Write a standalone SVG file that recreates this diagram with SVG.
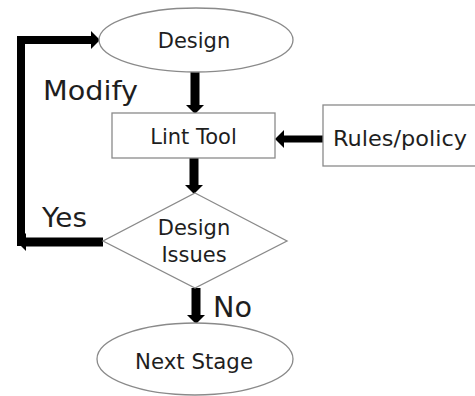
<svg xmlns="http://www.w3.org/2000/svg" width="475" height="396" viewBox="0 0 475 396">
  <style>
    .shape { fill: #ffffff; stroke: #8a8a8a; stroke-width: 1.3; }
    .lbl { font-family: "DejaVu Sans", "Liberation Sans", sans-serif; fill: #1e1e1e; }
    .node { font-size: 21px; text-anchor: middle; }
    .edge { fill: none; stroke: #000; stroke-linejoin: miter; stroke-linecap: butt; }
  </style>
  <defs>
    <marker id="ah" markerUnits="userSpaceOnUse" markerWidth="9" markerHeight="18" viewBox="0 0 9 18" refX="0" refY="9" orient="auto">
      <path d="M0,0 L9,9 L0,18 z" fill="#000"/>
    </marker>
  </defs>
  <rect width="475" height="396" fill="#ffffff"/>

  <g id="connectors">
    <line class="edge" x1="195" y1="72" x2="195" y2="105" stroke-width="9" marker-end="url(#ah)"/>
    <line class="edge" x1="323" y1="139" x2="284" y2="139" stroke-width="7" marker-end="url(#ah)"/>
    <line class="edge" x1="194" y1="158" x2="194" y2="185" stroke-width="9" marker-end="url(#ah)"/>
    <line class="edge" x1="196" y1="288" x2="196" y2="315" stroke-width="9" marker-end="url(#ah)"/>
    <line class="edge" x1="103" y1="242" x2="26" y2="242" stroke-width="9" marker-end="url(#ah)"/>
    <path class="edge" d="M21,246 V40 H91" stroke-width="8" marker-end="url(#ah)"/>
  </g>

  <g id="design">
    <ellipse class="shape" cx="196" cy="40" rx="97" ry="32"/>
    <text class="lbl node" x="194" y="48">Design</text>
  </g>
  <g id="lint-tool">
    <rect class="shape" x="112" y="113" width="163" height="45"/>
    <text class="lbl node" x="193.5" y="144">Lint Tool</text>
  </g>
  <g id="rules-policy">
    <rect class="shape" x="323" y="105" width="170" height="61"/>
    <text class="lbl" x="333" y="146" font-size="22" textLength="134" lengthAdjust="spacingAndGlyphs">Rules/policy</text>
  </g>
  <g id="design-issues">
    <polygon class="shape" points="195,193 287,241 195,288 103,241"/>
    <text class="lbl node" x="194" y="235" font-size="20">Design</text>
    <text class="lbl node" x="194" y="262" font-size="20">Issues</text>
  </g>
  <g id="next-stage">
    <ellipse class="shape" cx="195" cy="359" rx="98" ry="36"/>
    <text class="lbl" x="135" y="369" font-size="22" textLength="118" lengthAdjust="spacingAndGlyphs">Next Stage</text>
  </g>

  <g id="edge-labels">
    <text class="lbl" x="43" y="100" font-size="27" textLength="95" lengthAdjust="spacingAndGlyphs">Modify</text>
    <text class="lbl" x="42" y="227" font-size="27" textLength="45" lengthAdjust="spacingAndGlyphs">Yes</text>
    <text class="lbl" x="213" y="317" font-size="28" textLength="39" lengthAdjust="spacingAndGlyphs">No</text>
  </g>
</svg>
